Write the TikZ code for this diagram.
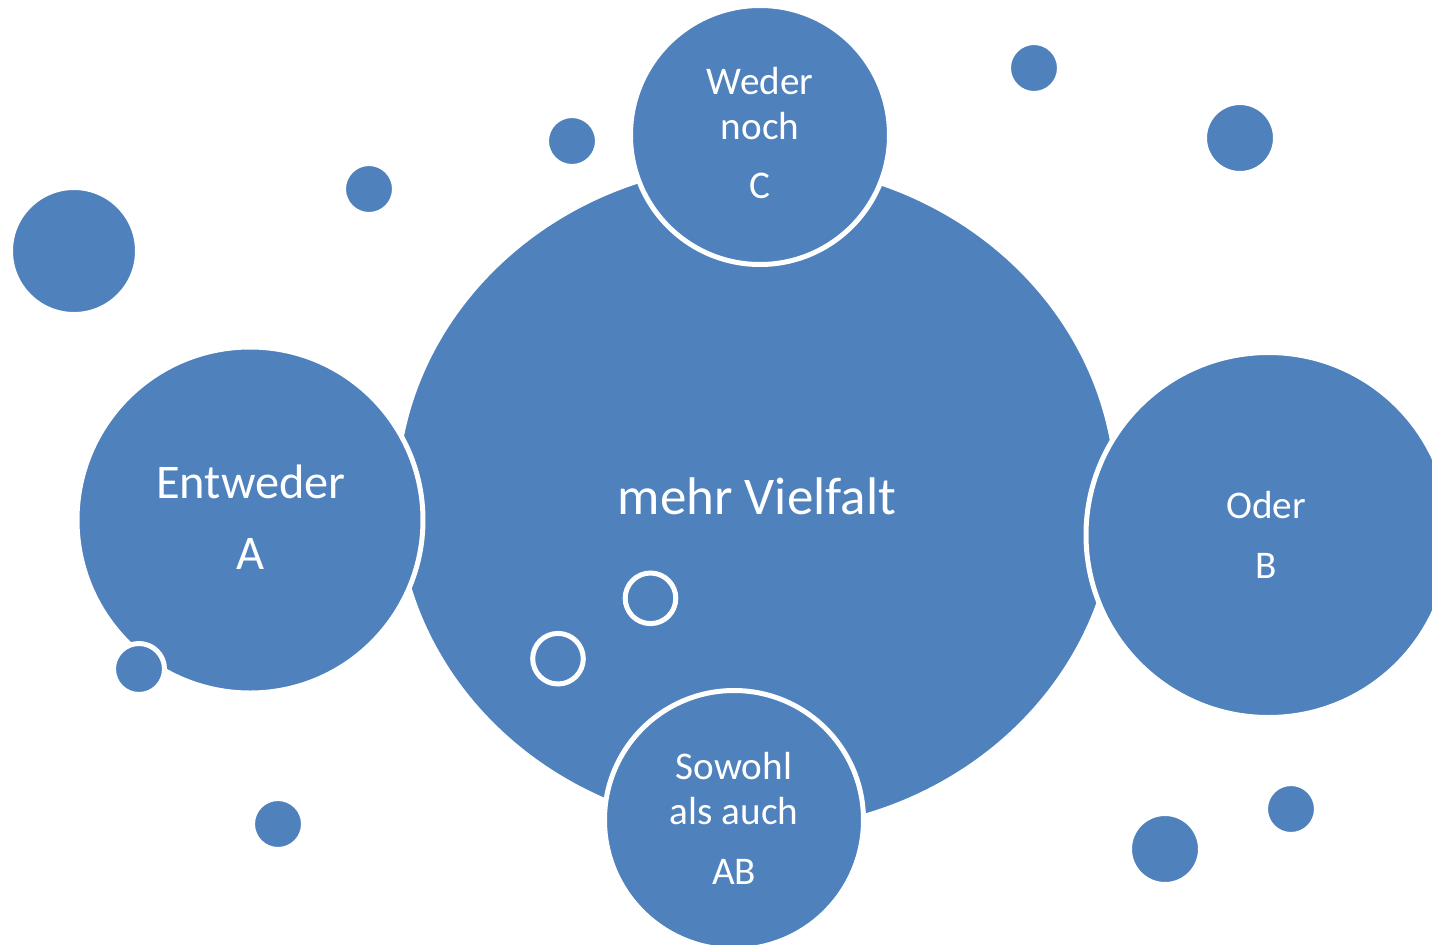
\documentclass[tikz,border=0pt]{standalone}
\usepackage{fontspec}
\setmainfont{Carlito}
\usetikzlibrary{shapes.geometric}
\definecolor{myblue}{HTML}{4F81BD}
\tikzset{
  blob/.style={circle, fill=myblue, draw=white, line width=2.5pt, inner sep=0pt, minimum size=#1},
  ring/.style={circle, draw=white, line width=2.5pt, inner sep=0pt, minimum size=#1},
  bigoval/.style={ellipse, fill=myblue, draw=white, line width=2.5pt, inner sep=0pt, minimum width=361pt, minimum height=334.5pt},
  lbl/.style={text=white, inner sep=0pt, anchor=base, font=\fontsize{19.6}{23}\selectfont},
  lblmid/.style={text=white, inner sep=0pt, anchor=base, font=\fontsize{24.2}{28}\selectfont},
  lblbig/.style={text=white, inner sep=0pt, anchor=base, font=\fontsize{26.5}{31}\selectfont}
}
\begin{document}
\begin{tikzpicture}[x=0.5pt, y=-0.5pt]
\useasboundingbox (0,0) rectangle (1432,944);
\clip (0,0) rectangle (1432,944);
% central oval
\node[bigoval] (main) at (756.5,497) {};
% satellite circles
\node[blob=173pt] (entweder) at (250,520) {};
\node[blob=182.5pt] (oder) at (1268.5,535) {};
\node[blob=129.5pt] (weder) at (760,135) {};
\node[blob=129.5pt] (sowohl) at (734,820) {};
% hollow rings
\node[ring=25.3pt] (ring1) at (650.5,598.3) {};
\node[ring=25.3pt] (ring2) at (558,658.7) {};
% decorative dots
\node[blob=63.5pt] (d1) at (74,251) {};
\node[blob=25.5pt] (d2) at (369,189) {};
\node[blob=25.5pt] (d3) at (572,141) {};
\node[blob=25.5pt] (d4) at (1034,68) {};
\node[blob=35.5pt] (d5) at (1240,138) {};
\node[blob=25.5pt] (d6) at (139,669) {};
\node[blob=25.5pt] (d7) at (278,824) {};
\node[blob=35.5pt] (d8) at (1165,849) {};
\node[blob=25.5pt] (d9) at (1291,809) {};
% texts
\node[lblbig] (tmain) at (757,514) {mehr Vielfalt};
\node[lblmid] (tent1) at (251,498) {Entweder};
\node[lblmid] (tent2) at (251,569.5) {A};
\node[lbl] (tod1) at (1266,518) {Oder};
\node[lbl] (tod2) at (1266,578) {B};
\node[lbl] (twe1) at (760,94) {Weder};
\node[lbl] (twe2) at (760,139) {noch};
\node[lbl] (twe3) at (760,198) {C};
\node[lbl] (tso1) at (734,779) {Sowohl};
\node[lbl] (tso2) at (734,824) {als auch};
\node[lbl] (tso3) at (734,884) {AB};
\end{tikzpicture}
\end{document}
